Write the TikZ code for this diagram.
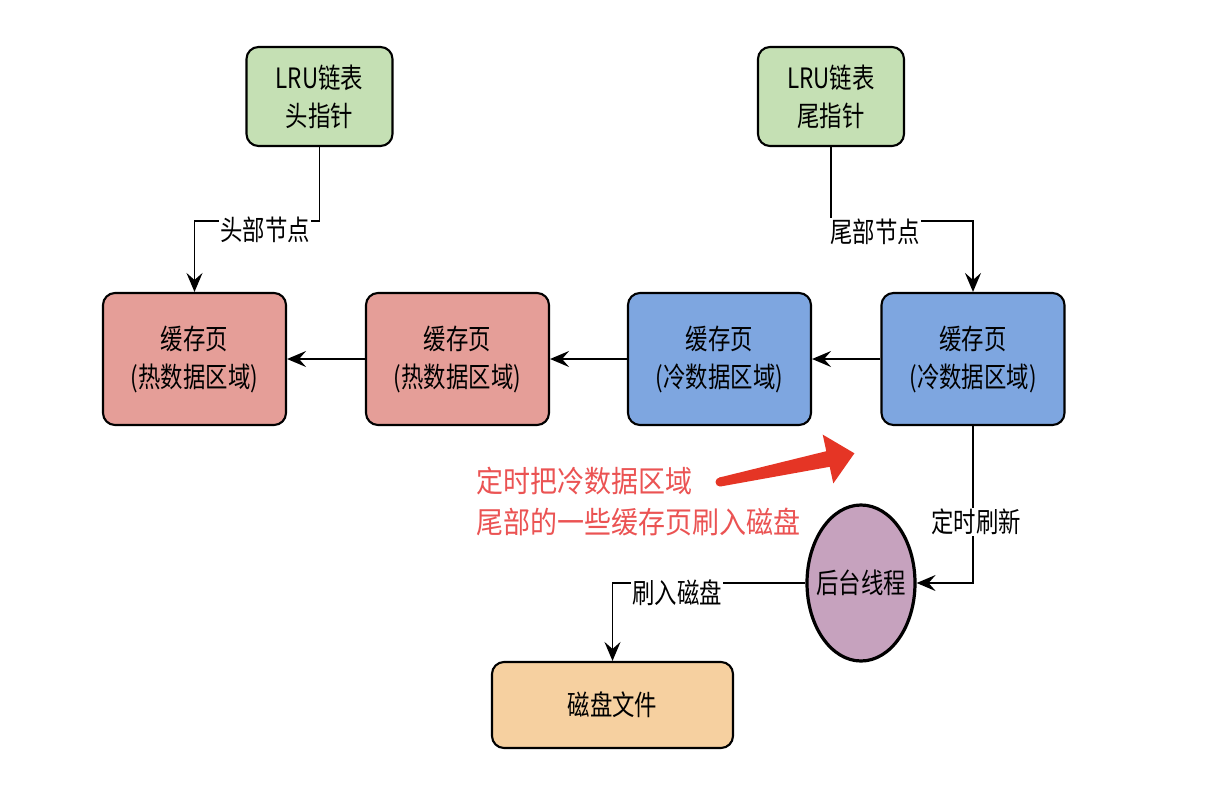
\documentclass[tikz,border=0pt]{standalone}
\usepackage{fontspec}
\usetikzlibrary{arrows.meta,shapes.geometric}
\newfontfamily\cjk[FakeStretch=0.8]{Noto Sans CJK SC}
\newfontfamily\cjkred[FakeStretch=0.9]{Noto Sans CJK SC}
\definecolor{gfill}{HTML}{C5E0B4}
\definecolor{rfill}{HTML}{E59E98}
\definecolor{bfill}{HTML}{7EA6E0}
\definecolor{pfill}{HTML}{C6A2BE}
\definecolor{ofill}{HTML}{F6D0A0}
\definecolor{rtext}{HTML}{EB5353}
\definecolor{rarrow}{HTML}{E53525}
\tikzset{
  boxnode/.style={draw=black, line width=2.1pt, rounded corners=12pt, align=center,
    inner sep=0pt, font=\cjk\fontsize{28}{38}\selectfont},
  greenbox/.style={boxnode, fill=gfill, minimum width=146pt, minimum height=99pt},
  pagebox/.style={boxnode, minimum width=183pt, minimum height=132pt},
  arr/.style={line width=1.8pt, -{Stealth[length=19pt,width=16pt,inset=7pt]}},
  lbl/.style={fill=white, inner sep=1pt, font=\cjk\fontsize{28}{34}\selectfont},
}
\begin{document}
\begin{tikzpicture}[x=1pt,y=-1pt]
\useasboundingbox (0,0) rectangle (1215,798);
\fill[white] (0,0) rectangle (1215,798);

\node[greenbox] (g1) at (319.5,96.5) {LRU链表\\头指针};
\node[greenbox] (g2) at (831,96.5) {LRU链表\\尾指针};

\node[pagebox, fill=rfill] (r1) at (194.5,359) {缓存页\\(热数据区域)};
\node[pagebox, fill=rfill] (r2) at (457.5,359) {缓存页\\(热数据区域)};
\node[pagebox, fill=bfill] (b1) at (719.5,359) {缓存页\\(冷数据区域)};
\node[pagebox, fill=bfill] (b2) at (973,359) {缓存页\\(冷数据区域)};

\node[ellipse, draw=black, line width=3.2pt, fill=pfill, minimum width=108pt, minimum height=156pt,
  inner xsep=-9pt, inner ysep=0pt, font=\cjk\fontsize{28}{38}\selectfont] (bg) at (861,583) {后台线程};
\node[boxnode, fill=ofill, minimum width=241pt, minimum height=86pt] (disk) at (612.5,705) {磁盘文件};

\draw[arr] (g1.south) -- ++(0,74) -| (r1.north);
\draw[arr] (g2.south) -- ++(0,74) -| (b2.north);
\draw[arr] (r2.west) -- (r1.east);
\draw[arr] (b1.west) -- (r2.east);
\draw[arr] (b2.west) -- (b1.east);
\draw[arr] (b2.south) |- (bg.east);
\draw[arr] (bg.west) -| (disk.north);

\node[lbl] (l1) at (265,230) {头部节点};
\node[lbl] (l2) at (875,232) {尾部节点};
\node[lbl] (l3) at (976,522) {定时刷新};
\node[lbl] (l4) at (677,593) {刷入磁盘};

\node[anchor=north west, align=left, text=rtext, inner sep=0pt,
  font=\cjkred\fontsize{30}{41}\selectfont] (note) at (476,467) {定时把冷数据区域\\尾部的一些缓存页刷入磁盘};

\fill[rarrow] (719,477.6) -- (826.3,451.2) -- (822.7,434.6) -- (854.4,453.3)
  -- (833.3,483.4) -- (829.7,466.8) -- (721,486.4) -- cycle;
\fill[rarrow] (720,482) circle (4.5);
\end{tikzpicture}
\end{document}
